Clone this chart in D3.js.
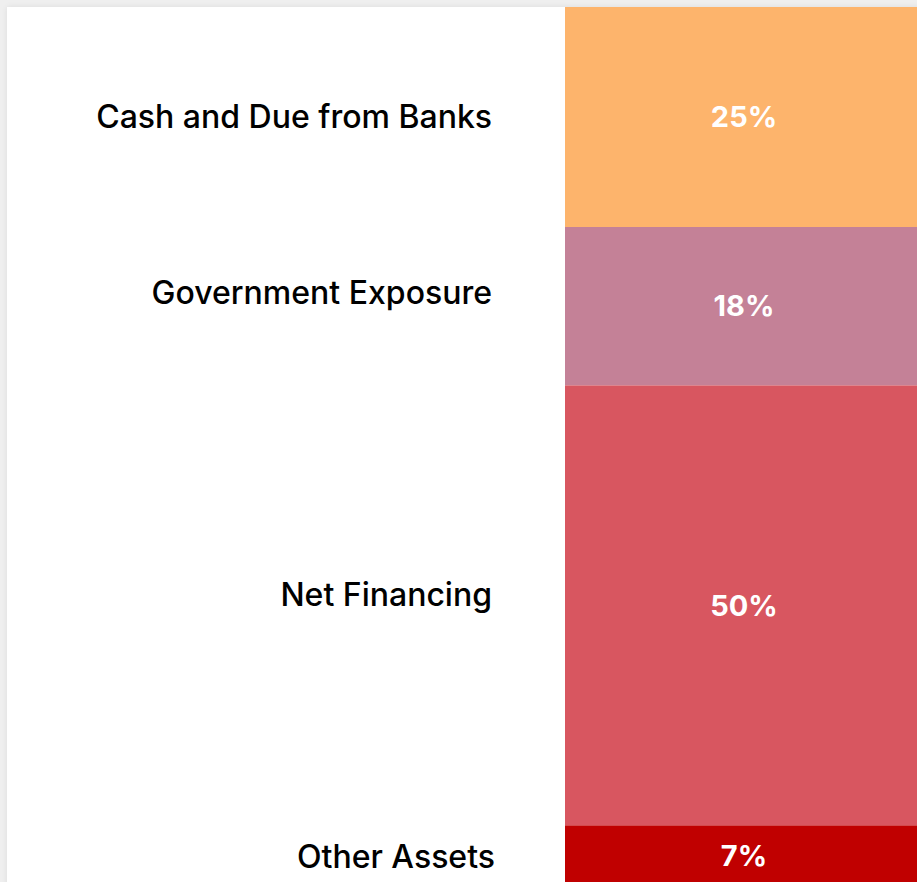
<!DOCTYPE html>
<html><head><meta charset="utf-8">
<script src="https://cdn.jsdelivr.net/npm/d3@7"></script>
<style>
html,body{margin:0;padding:0;background:#efefef;overflow:hidden;}
#card{position:absolute;left:7px;top:7px;width:1000px;height:1000px;background:#fff;box-shadow:0 0 6px rgba(0,0,0,0.08);}
svg{position:absolute;left:0;top:0;}
</style></head>
<body><div id="card"></div>
<script>
const categories = ["Cash and Due from Banks","Government Exposure","Net Financing","Other Assets"];
const values = [25, 18, 50, 7];
const colors = ["#fdb46c","#c48197","#d85660","#c00000"];

const W = 917, H = 882;
const svg = d3.select("body").append("svg").attr("width", W).attr("height", H);

const yTop = 7, yBottom = 887;
const total = d3.sum(values);
const y = d3.scaleLinear().domain([0, total]).range([yTop, yBottom]);
const x0 = 565, x1 = 917;

let acc = 0;
const data = values.map((v, i) => { const d = {cat: categories[i], v, s: acc, e: acc + v, c: colors[i]}; acc += v; return d; });

svg.selectAll("rect.seg").data(data).join("rect")
  .attr("x", x0).attr("width", x1 - x0)
  .attr("y", d => y(d.s)).attr("height", d => y(d.e) - y(d.s))
  .attr("fill", d => d.c);

svg.selectAll("text.pct").data(data).join("text")
  .attr("x", 744)
  .attr("y", d => (y(d.s) + y(d.e)) / 2)
  .attr("dy", "0.35em")
  .attr("text-anchor", "middle")
  .attr("font-family", "Inter, sans-serif")
  .attr("font-weight", 700)
  .attr("font-size", 29)
  .attr("fill", "#fff")
  .text(d => d3.format(".0f")(d.v) + "%");

const nudge = [0, -13, -11, 1];
const xEnd = [492, 492, 492, 495];
svg.selectAll("text.lbl").data(data).join("text")
  .attr("x", (d, i) => xEnd[i])
  .attr("y", (d, i) => (y(d.s) + y(d.e)) / 2 + nudge[i])
  .attr("dy", "0.35em")
  .attr("text-anchor", "end")
  .attr("font-family", "Inter, sans-serif")
  .attr("font-weight", 500)
  .attr("font-size", 32)
  .attr("fill", "#000")
  .text(d => d.cat);
</script></body></html>
